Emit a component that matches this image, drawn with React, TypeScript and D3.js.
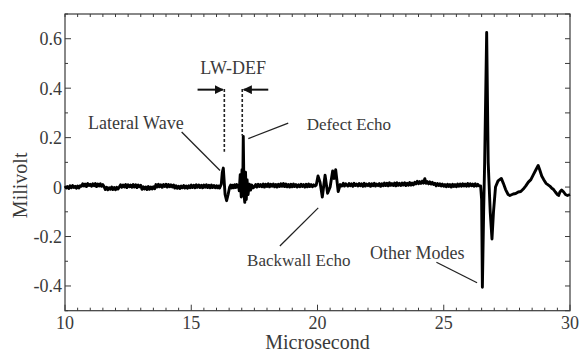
import * as d3 from 'd3';

// Ultrasonic A-scan: amplitude (mV) against time (µs)
const noiseStep = 0.05;

// quiet baseline before the lateral wave, 10.0 .. 16.0 µs
const noiseAStart = 10.0;
const noiseA = [
  0.004, -0.004, 0.002, -0.006, 0.005, -0.003, 0.006, -0.002, 0.003, -0.005, 0.004, -0.004, 0.005,
  0.003, 0.013, 0.004, 0.012, 0.002, 0.014, 0.006, 0.011, 0.003, 0.013, 0.005, 0.014, 0.002, 0.012, 0.004, 0.013, 0.003, 0.01,
  0.001, -0.01, -0.001, -0.011, -0.003, -0.009, 0.0, -0.01, -0.002, -0.011, -0.001, -0.008, 0.0,
  0.009, -0.001, 0.008, 0.0, 0.01, -0.002, 0.009, 0.001, 0.008, -0.001, 0.01, 0.0, 0.009, -0.002, 0.008, 0.001, 0.007,
  -0.009, 0.001, -0.008, 0.0, -0.01, 0.002, -0.009, 0.0, -0.008, 0.001, -0.007,
  0.01, 0.0, 0.011, 0.001, 0.009, -0.001, 0.01, 0.002, 0.011, 0.0, 0.01, 0.001, 0.009, 0.0, 0.008,
  -0.004, 0.005, -0.005, 0.003, -0.006, 0.004, -0.003, 0.006, -0.004, 0.004, -0.005, 0.005, -0.003,
  0.008, -0.002, 0.007, -0.003, 0.009, -0.001, 0.008, -0.002, 0.007, -0.003, 0.008, -0.001, 0.009, -0.002, 0.007, -0.003,
  0.008, -0.002, 0.006, -0.003, 0.005,
];

// lateral wave + defect echo
const lateralDefect: [number, number][] = [
  [16.04, -0.003], [16.08, 0.004], [16.12, -0.004], [16.16, 0.005], [16.19, 0.012], [16.23, 0.06],
  [16.27, 0.077], [16.3, 0.03], [16.34, -0.03], [16.4, -0.055], [16.46, -0.03],
  [16.52, 0.0], [16.56, 0.008], [16.6, -0.004], [16.64, 0.007], [16.68, -0.003], [16.72, 0.009],
  [16.76, -0.002], [16.8, 0.01], [16.84, 0.0], [16.88, 0.006], [16.9, -0.015], [16.94, 0.05],
  [16.98, -0.04], [17.01, 0.07], [17.04, 0.0], [17.06, 0.205], [17.09, -0.03], [17.12, -0.062],
  [17.15, 0.06], [17.18, -0.05], [17.21, 0.03], [17.25, -0.03], [17.3, 0.012],
  [17.35, -0.012], [17.4, 0.008], [17.45, -0.003],
];

// baseline between defect and backwall, 17.5 .. 19.9 µs
const noiseBStart = 17.5;
const noiseB = [
  0.001, 0.01, 0.0, 0.011, 0.002, 0.01, 0.001, 0.012, 0.0, 0.011,
  0.002, 0.013, 0.001, 0.011, 0.003, 0.012, 0.001, 0.01, 0.0, 0.011,
  0.002, 0.013, 0.003, 0.014, 0.002, 0.012, 0.001, 0.01, 0.0, 0.011,
  0.001, 0.012, 0.002, 0.01, 0.0, 0.009, 0.001, 0.011, 0.002, 0.01,
  0.0, 0.011, 0.001, 0.012, 0.002, 0.01, 0.001, 0.009, 0.004,
];

const backwall: [number, number][] = [
  [19.95, 0.008], [20.02, 0.045], [20.1, 0.02], [20.19, -0.04], [20.3, 0.048],
  [20.4, -0.025], [20.5, 0.0], [20.6, 0.065], [20.66, 0.035], [20.72, 0.07],
  [20.82, -0.018], [20.9, 0.01], [20.96, 0.004], [21.02, 0.015], [21.07, 0.004], [21.12, 0.013],
];

// baseline before the other modes, 21.2 .. 26.4 µs
const noiseCStart = 21.2;
const noiseC = [
  0.004, 0.014, 0.005, 0.013, 0.003, 0.015, 0.006, 0.012, 0.004, 0.014,
  0.005, 0.013, 0.003, 0.015, 0.004, 0.012, 0.006, 0.014, 0.003, 0.013,
  0.005, 0.015, 0.004, 0.012, 0.006, 0.014, 0.003, 0.013, 0.005,
  0.016, 0.006, 0.015, 0.005, 0.017, 0.007, 0.014, 0.006, 0.016, 0.005,
  0.017, 0.007, 0.015, 0.006, 0.016, 0.008, 0.017, 0.006, 0.015, 0.007,
  0.018, 0.008, 0.016, 0.009, 0.019,
  0.013, 0.023, 0.014, 0.022, 0.015, 0.024, 0.016, 0.034, 0.015, 0.022, 0.013, 0.021, 0.012, 0.019, 0.01,
  0.015, 0.005, 0.014, 0.006, 0.013, 0.004, 0.012, 0.003,
  0.01, 0.001, 0.011, 0.002, 0.01, 0.0, 0.011, 0.002, 0.01, 0.001, 0.012, 0.003,
  0.012, 0.003, 0.013, 0.004, 0.012, 0.003, 0.014, 0.004, 0.013, 0.005, 0.012, 0.003, 0.013, 0.004, 0.011, 0.005,
];

const otherModes: [number, number][] = [
  [26.46, 0.005], [26.5, -0.05], [26.53, -0.405], [26.58, -0.1], [26.62, 0.1],
  [26.7, 0.625], [26.76, 0.1], [26.84, -0.1], [26.91, -0.21], [26.97, -0.1],
  [27.05, 0.0], [27.15, 0.025], [27.28, 0.035], [27.36, 0.015], [27.45, -0.01],
  [27.55, -0.03], [27.62, -0.034], [27.75, -0.028], [27.85, -0.026], [27.95, -0.02],
  [28.05, -0.018], [28.15, -0.008], [28.25, 0.005], [28.35, 0.02], [28.45, 0.03],
  [28.55, 0.05], [28.65, 0.07], [28.74, 0.087], [28.8, 0.07], [28.88, 0.045],
  [28.96, 0.03], [29.05, 0.015], [29.12, 0.01], [29.2, 0.004], [29.28, -0.005],
  [29.35, -0.01], [29.42, -0.02], [29.5, -0.03], [29.55, -0.034], [29.6, -0.02],
  [29.67, -0.012], [29.75, -0.02], [29.82, -0.03], [29.9, -0.034], [30.0, -0.03],
];

const xTicks = [10, 15, 20, 25, 30];
const yTicks = [-0.4, -0.2, 0, 0.2, 0.4, 0.6];

// annotations, in data units
const labels = [
  { text: 'Lateral Wave', x: 10.91, y: 0.236, size: 18 },
  { text: 'Defect Echo', x: 19.57, y: 0.232, size: 17 },
  { text: 'Backwall Echo', x: 17.21, y: -0.319, size: 17 },
  { text: 'Other Modes', x: 22.08, y: -0.29, size: 18 },
];
const leaders = [
  [14.62, 0.223, 16.14, 0.067],
  [18.84, 0.259, 17.26, 0.196],
  [18.51, -0.238, 20.03, -0.084],
  [24.71, -0.304, 26.32, -0.387],
];
const gapMarks = [
  { x: 16.31, y0: 0.397, y1: 0.143 },
  { x: 17.02, y0: 0.397, y1: 0.208 },
];

const W = 582;
const H = 352;
const M = { left: 65, right: 12, top: 14, bottom: 41.3 };

export default function App() {
  const x = d3.scaleLinear().domain([10, 30]).range([M.left, W - M.right]);
  const y = d3.scaleLinear().domain([-0.5, 0.7]).range([H - M.bottom, M.top]);

  const pts: [number, number][] = [
    ...noiseA.map((v, i) => [noiseAStart + i * noiseStep, v] as [number, number]),
    ...lateralDefect,
    ...noiseB.map((v, i) => [noiseBStart + i * noiseStep, v] as [number, number]),
    ...backwall,
    ...noiseC.map((v, i) => [noiseCStart + i * noiseStep, v] as [number, number]),
    ...otherModes,
  ];
  const line = d3.line<[number, number]>().x(d => x(d[0])).y(d => y(d[1]));

  const xMinor = d3.range(10, 30.01, 0.5);
  const yMinor = d3.range(-0.5, 0.701, 0.1);
  const x0 = x(10), x1 = x(30), y0 = y(-0.5), y1 = y(0.7);
  const ink = '#3a3a3a';
  const font = "'Liberation Serif', Tinos, 'Times New Roman', Times, serif";
  const arrowY = y(0.394);

  return (
    <svg width={W} height={H}
      style={{ position: 'absolute', left: 0, top: 0, background: '#fff', fontFamily: font }}>
      <defs>
        <marker id="ah" viewBox="0 0 10 10" refX="9" refY="5" markerWidth="4.5" markerHeight="4.5" orient="auto">
          <path d="M0,0 L10,5 L0,10 Z" fill="#111" />
        </marker>
      </defs>

      {/* ticks */}
      <g stroke={ink} strokeWidth={1}>
        {xMinor.map(t => {
          const major = Math.abs(t % 5) < 1e-6;
          const len = major ? 6 : 3;
          return (
            <g key={'xt' + t}>
              <line x1={x(t)} x2={x(t)} y1={y0} y2={y0 - len} />
              <line x1={x(t)} x2={x(t)} y1={y1} y2={y1 + 3} />
            </g>
          );
        })}
        {yMinor.map(t => {
          const major = yTicks.some(v => Math.abs(v - t) < 1e-6);
          return (
            <g key={'yt' + t.toFixed(1)}>
              <line x1={x0} x2={x0 + (major ? 6 : 3)} y1={y(t)} y2={y(t)} />
              <line x1={x1} x2={x1 - 5} y1={y(t)} y2={y(t)} />
            </g>
          );
        })}
      </g>

      <rect x={x0} y={y1} width={x1 - x0} height={y0 - y1} fill="none" stroke={ink} strokeWidth={1.2} />

      <g fill={ink} fontSize={18}>
        {xTicks.map(t => (
          <text key={'xl' + t} x={x(t)} y={y0 + 18} textAnchor="middle">{t}</text>
        ))}
        {yTicks.map(t => (
          <text key={'yl' + t} x={x0 - 3} y={y(t) + 6.5} textAnchor="end">
            {t === 0 ? '0' : d3.format('.1f')(t).replace('−', '-')}
          </text>
        ))}
      </g>
      <text x={(x0 + x1) / 2} y={349} textAnchor="middle" fontSize={20} fill={ink}>Microsecond</text>
      <text transform={`translate(27,${(y0 + y1) / 2 + 23}) rotate(-90)`} textAnchor="middle" fontSize={20} fill={ink}>Milivolt</text>

      {/* signal */}
      <path d={line(pts) ?? ''} fill="none" stroke="#000" strokeWidth={2.9} strokeLinejoin="round" />

      {/* annotations */}
      <g stroke="#222" strokeWidth={1.3}>
        {leaders.map((l, i) => (
          <line key={'ld' + i} x1={x(l[0])} y1={y(l[1])} x2={x(l[2])} y2={y(l[3])} />
        ))}
      </g>
      <g stroke="#222" strokeWidth={1.6} strokeDasharray="3,2">
        {gapMarks.map((g, i) => (
          <line key={'gm' + i} x1={x(g.x)} x2={x(g.x)} y1={y(g.y0)} y2={y(g.y1)} />
        ))}
      </g>
      <line x1={x(15.25)} x2={x(16.25)} y1={arrowY} y2={arrowY} stroke="#111" strokeWidth={2} markerEnd="url(#ah)" />
      <line x1={x(18.05)} x2={x(17.08)} y1={arrowY} y2={arrowY} stroke="#111" strokeWidth={2} markerEnd="url(#ah)" />
      <text x={x(16.66)} y={y(0.459)} textAnchor="middle" fontSize={18} fill={ink}>LW-DEF</text>
      <g fill={ink}>
        {labels.map(l => (
          <text key={l.text} x={x(l.x)} y={y(l.y)} fontSize={l.size}>{l.text}</text>
        ))}
      </g>
    </svg>
  );
}
